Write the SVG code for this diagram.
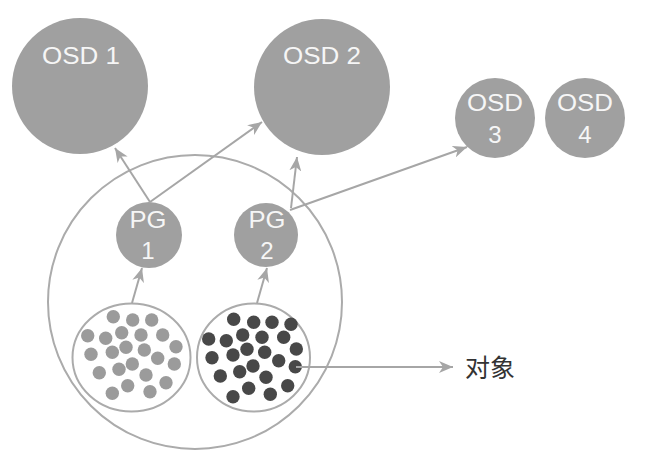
<svg xmlns="http://www.w3.org/2000/svg" width="668" height="462" viewBox="0 0 668 462">
<defs>
<style>
.osd{fill:#a0a0a0}
.t{font-family:"Liberation Sans",Arial,sans-serif;fill:#f6f6f6;text-anchor:middle;font-size:24px}
.ring{fill:none;stroke:#ababab;stroke-width:2}
.con line{stroke:#a6a6a6;stroke-width:2;fill:none}
.lt circle{fill:#9b9b9b}
.dk circle{fill:#484848}
.lbl{font-family:"Liberation Sans","Noto Sans CJK SC",sans-serif;font-size:25px;fill:#333}
</style>
<marker id="ah" markerUnits="userSpaceOnUse" markerWidth="16" markerHeight="12" refX="14" refY="6" orient="auto">
<path d="M0,0 L14,6 L0,12 L4,6 z" fill="#a6a6a6"/>
</marker>
</defs>
<rect width="668" height="462" fill="#fff"/>
<g id="pool"><circle class="ring" cx="195" cy="302" r="147"/></g>
<g id="osd1"><circle class="osd" cx="80" cy="86" r="68"/><text class="t" x="81" y="64" textLength="78" lengthAdjust="spacingAndGlyphs">OSD 1</text></g>
<g id="osd2"><circle class="osd" cx="322" cy="87" r="68"/><text class="t" x="322" y="64" textLength="78" lengthAdjust="spacingAndGlyphs">OSD 2</text></g>
<g id="osd3"><circle class="osd" cx="495" cy="118" r="40"/><text class="t" x="495" y="111" textLength="56" lengthAdjust="spacingAndGlyphs">OSD</text><text class="t" x="495" y="143">3</text></g>
<g id="osd4"><circle class="osd" cx="585" cy="118" r="40"/><text class="t" x="585" y="111" textLength="56" lengthAdjust="spacingAndGlyphs">OSD</text><text class="t" x="585" y="143">4</text></g>
<g id="pg1"><circle class="osd" cx="149" cy="235" r="33"/><text class="t" x="148" y="228" textLength="37" lengthAdjust="spacingAndGlyphs">PG</text><text class="t" x="148" y="259">1</text></g>
<g id="pg2"><circle class="osd" cx="266" cy="235" r="32"/><text class="t" x="267" y="228" textLength="37" lengthAdjust="spacingAndGlyphs">PG</text><text class="t" x="267" y="259">2</text></g>
<g id="objects1" class="lt">
<ellipse class="ring" cx="131.5" cy="357.5" rx="59" ry="54"/>
<circle cx="113.3" cy="316.7" r="6.7"/><circle cx="132.7" cy="320" r="6.7"/><circle cx="151.7" cy="320" r="6.7"/>
<circle cx="87.7" cy="335.7" r="6.7"/><circle cx="105.7" cy="338.3" r="6.7"/><circle cx="121.7" cy="332.7" r="6.7"/><circle cx="141" cy="335" r="6.7"/><circle cx="162.7" cy="335" r="6.7"/><circle cx="176" cy="346.7" r="6.7"/>
<circle cx="91" cy="354.3" r="6.7"/><circle cx="112.3" cy="352.3" r="6.7"/><circle cx="126" cy="347.3" r="6.7"/><circle cx="144.3" cy="350" r="6.7"/><circle cx="157.7" cy="358.3" r="6.7"/><circle cx="174.3" cy="364" r="6.7"/>
<circle cx="99.3" cy="372.7" r="6.7"/><circle cx="119" cy="369.3" r="6.7"/><circle cx="132.3" cy="364" r="6.7"/><circle cx="146" cy="375" r="6.7"/><circle cx="166" cy="382.7" r="6.7"/>
<circle cx="127.7" cy="385.7" r="6.7"/><circle cx="112.3" cy="393.3" r="6.7"/><circle cx="150" cy="391.7" r="6.7"/>
</g>
<g id="objects2" class="dk">
<ellipse class="ring" cx="253.5" cy="357.5" rx="56.5" ry="54"/>
<circle cx="233.7" cy="319.3" r="6.7"/><circle cx="253.7" cy="322.3" r="6.7"/><circle cx="272" cy="322.3" r="6.7"/><circle cx="291" cy="324.3" r="6.7"/>
<circle cx="208.7" cy="339" r="6.7"/><circle cx="226.3" cy="340.7" r="6.7"/><circle cx="242.7" cy="335" r="6.7"/><circle cx="262" cy="337.3" r="6.7"/><circle cx="283.7" cy="337.3" r="6.7"/><circle cx="296.3" cy="349" r="6.7"/>
<circle cx="212" cy="357.7" r="6.7"/><circle cx="233" cy="355" r="6.7"/><circle cx="247" cy="349.3" r="6.7"/><circle cx="264.7" cy="352.3" r="6.7"/><circle cx="278.7" cy="360.7" r="6.7"/><circle cx="295.3" cy="366.7" r="6.7"/>
<circle cx="220.3" cy="376" r="6.7"/><circle cx="239.7" cy="371.7" r="6.7"/><circle cx="253" cy="366" r="6.7"/><circle cx="266" cy="377.3" r="6.7"/><circle cx="287.7" cy="385.7" r="6.7"/>
<circle cx="248.7" cy="388.3" r="6.7"/><circle cx="233" cy="396.7" r="6.7"/><circle cx="270.3" cy="394.3" r="6.7"/>
</g>
<g id="connectors" class="con">
<line x1="150" y1="202" x2="115" y2="148" marker-end="url(#ah)"/>
<line x1="150" y1="202" x2="262" y2="122" marker-end="url(#ah)"/>
<line x1="291" y1="208" x2="297" y2="157" marker-end="url(#ah)"/>
<line x1="290" y1="210" x2="467" y2="147" marker-end="url(#ah)"/>
<line x1="132" y1="303" x2="142" y2="268" marker-end="url(#ah)"/>
<line x1="257" y1="303" x2="267" y2="268" marker-end="url(#ah)"/>
<line x1="296" y1="367" x2="453" y2="367" marker-end="url(#ah)"/>
</g>
<g id="label"><text class="lbl" x="465" y="377">对象</text></g>
</svg>
